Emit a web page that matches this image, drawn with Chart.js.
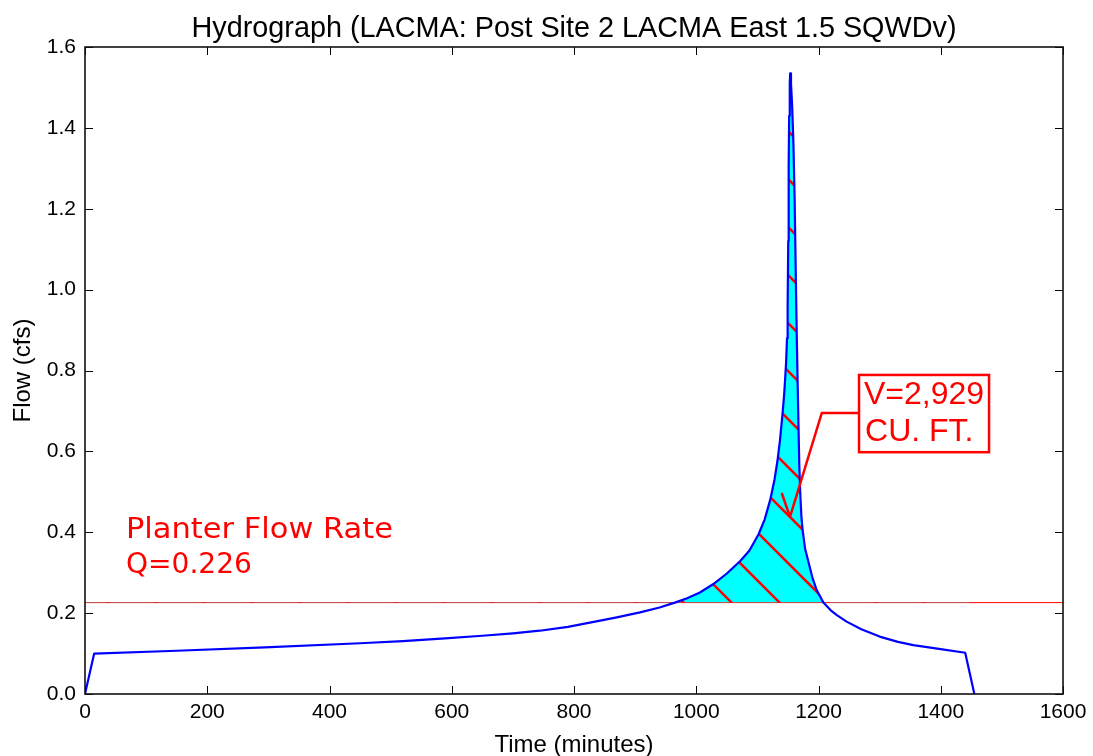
<!DOCTYPE html>
<html>
<head>
<meta charset="utf-8">
<script src="https://cdn.jsdelivr.net/npm/chart.js@4"></script>
<style>
  html, body { margin: 0; padding: 0; background: #fff; }
  #wrap { width: 1093px; height: 756px; }
</style>
</head>
<body>
<div id="wrap"><canvas id="chart" width="1093" height="756"></canvas></div>
<script>
// Storm runoff hydrograph, time in minutes, flow in cfs
const timeMin = [0, 15, 150, 294, 450, 520, 589, 650, 700, 744, 790, 826, 870, 908, 940, 965, 985, 1006, 1028, 1050, 1072, 1087, 1102, 1112, 1121, 1128, 1133, 1137, 1141, 1143.5, 1145, 1147, 1148.5, 1149.5, 1150.5, 1151.2, 1152, 1153, 1153.7, 1155, 1157, 1159, 1161, 1163, 1164.5, 1166, 1167.3, 1168.5, 1170, 1172, 1174, 1178, 1184, 1190, 1197, 1208, 1220, 1230, 1246, 1270, 1300, 1330, 1355, 1400, 1440, 1455];
const flowCfs = [0, 0.100, 0.107, 0.1155, 0.1255, 0.131, 0.1375, 0.144, 0.150, 0.1565, 0.166, 0.1765, 0.1895, 0.202, 0.214, 0.226, 0.237, 0.251, 0.272, 0.298, 0.329, 0.355, 0.395, 0.432, 0.48, 0.53, 0.578, 0.628, 0.69, 0.735, 0.768, 0.82, 0.88, 0.96, 1.12, 1.30, 1.43, 1.51, 1.535, 1.51, 1.45, 1.36, 1.22, 1.02, 0.88, 0.76, 0.66, 0.57, 0.50, 0.44, 0.405, 0.36, 0.324, 0.288, 0.257, 0.226, 0.207, 0.195, 0.179, 0.160, 0.142, 0.129, 0.121, 0.111, 0.102, 0];

const planterQ = 0.226;           // planter flow rate, cfs
const planterSpan = [0, 1600];    // drawn across the whole time axis
const xTicks = [0, 200, 400, 600, 800, 1000, 1200, 1400, 1600];
const yTicks = [0.0, 0.2, 0.4, 0.6, 0.8, 1.0, 1.2, 1.4, 1.6];
const volumeLabel = ['V=2,929', 'CU. FT.'];
const planterLabel = ['Planter Flow Rate', 'Q=0.226'];

const SANS = '"Liberation Sans", Arial, sans-serif';

// cyan fill with red "\\" hatching for the volume above the planter rate
function makeHatch() {
  const s = 48;
  const c = document.createElement('canvas');
  c.width = s; c.height = s;
  const g = c.getContext('2d');
  g.fillStyle = '#00ffff';
  g.fillRect(0, 0, s, s);
  g.strokeStyle = '#ff0000';
  g.lineWidth = 2.6;
  for (let k = -2; k <= 2; k++) {
    const off = 15 + k * s;
    g.beginPath();
    g.moveTo(-10, -10 + off);
    g.lineTo(s + 10, s + 10 + off);
    g.stroke();
  }
  return g.createPattern(c, 'repeat');
}

const hydro = timeMin.map((t, i) => ({ x: t, y: flowCfs[i] }));
const planter = planterSpan.map(t => ({ x: t, y: planterQ }));

// frame on all four sides with inward tick marks
const framePlugin = {
  id: 'frame',
  afterDraw(chart) {
    const { ctx, chartArea: a, scales } = chart;
    ctx.save();
    ctx.strokeStyle = '#000';
    ctx.lineWidth = 1;
    const L = 8;
    ctx.beginPath();
    xTicks.forEach(v => {
      const px = Math.round(scales.x.getPixelForValue(v)) + 0.5;
      ctx.moveTo(px, a.bottom); ctx.lineTo(px, a.bottom - L);
      ctx.moveTo(px, a.top); ctx.lineTo(px, a.top + L);
    });
    yTicks.forEach(v => {
      const py = Math.round(scales.y.getPixelForValue(v)) + 0.5;
      ctx.moveTo(a.left, py); ctx.lineTo(a.left + L, py);
      ctx.moveTo(a.right, py); ctx.lineTo(a.right - L, py);
    });
    ctx.stroke();
    ctx.lineWidth = 1.6;
    ctx.strokeStyle = '#111';
    ctx.strokeRect(a.left, a.top, a.right - a.left, a.bottom - a.top);
    ctx.restore();
  }
};

// write a line of text stretched to a given width
function fillTextWidth(ctx, text, x, y, w) {
  const m = ctx.measureText(text).width;
  ctx.save();
  ctx.translate(x, y);
  ctx.scale(w / m, 1);
  ctx.fillText(text, 0, 0);
  ctx.restore();
}

// text annotations: planter rate note and the volume call-out with leader arrow
const notePlugin = {
  id: 'notes',
  afterDatasetsDraw(chart) {
    const { ctx, scales: { x, y } } = chart;
    ctx.save();
    ctx.fillStyle = '#ff0000';
    ctx.textAlign = 'left';
    ctx.textBaseline = 'alphabetic';

    ctx.font = '28.5px "DejaVu Sans", sans-serif';
    const px0 = x.getPixelForValue(67), py0 = y.getPixelForValue(0.386);
    fillTextWidth(ctx, planterLabel[0], px0, py0, 267);
    fillTextWidth(ctx, planterLabel[1], px0, py0 + 35, 126);

    // call-out box
    const bl = x.getPixelForValue(1266.3), bt = y.getPixelForValue(0.789);
    const br = x.getPixelForValue(1479), bb = y.getPixelForValue(0.598);
    ctx.strokeStyle = '#ff0000';
    ctx.lineWidth = 2.5;
    ctx.strokeRect(bl, bt, br - bl, bb - bt);
    ctx.font = '32px ' + SANS;
    ctx.fillText(volumeLabel[0], bl + 5, bt + 29);
    ctx.fillText(volumeLabel[1], bl + 6, bt + 66);

    // leader line with open arrow head
    const elbowX = x.getPixelForValue(1205.4), elbowY = y.getPixelForValue(0.695);
    const tipX = x.getPixelForValue(1153.4), tipY = y.getPixelForValue(0.438);
    const armX = x.getPixelForValue(1139.8), armY = y.getPixelForValue(0.497);
    ctx.lineWidth = 2.5;
    ctx.beginPath();
    ctx.moveTo(bl, elbowY);
    ctx.lineTo(elbowX, elbowY);
    ctx.lineTo(tipX, tipY);
    ctx.moveTo(armX, armY);
    ctx.lineTo(tipX, tipY);
    ctx.stroke();

    // title
    ctx.fillStyle = '#000';
    ctx.textAlign = 'center';
    ctx.font = '28.8px ' + SANS;
    ctx.fillText('Hydrograph (LACMA: Post Site 2 LACMA East 1.5 SQWDv)', (chart.chartArea.left + chart.chartArea.right) / 2, 37);
    ctx.restore();
  }
};

new Chart(document.getElementById('chart'), {
  type: 'line',
  data: {
    datasets: [
      {
        label: 'Hydrograph',
        data: hydro,
        borderColor: '#0000ff',
        borderWidth: 2.2,
        borderJoinStyle: 'round',
        pointRadius: 0,
        tension: 0,
        fill: { target: { value: planterQ }, above: makeHatch(), below: 'rgba(0,0,0,0)' },
        order: 0
      },
      {
        label: 'Planter flow rate',
        data: planter,
        borderColor: '#ff0000',
        borderWidth: 1,
        pointRadius: 0,
        fill: false,
        order: 1
      }
    ]
  },
  options: {
    responsive: false,
    animation: false,
    devicePixelRatio: 1,
    layout: { padding: { top: 47, right: 30, left: 0, bottom: 0 } },
    plugins: { legend: { display: false }, tooltip: { enabled: false }, title: { display: false } },
    scales: {
      x: {
        type: 'linear', min: 0, max: 1600,
        afterBuildTicks: s => { s.ticks = xTicks.map(v => ({ value: v })); },
        afterFit: s => { s.height = 62; },
        grid: { display: false, drawTicks: false },
        border: { display: false },
        ticks: { color: '#000', font: { family: SANS, size: 21 }, padding: 6, maxRotation: 0, callback: v => String(v) },
        title: { display: true, text: 'Time (minutes)', color: '#000', font: { family: SANS, size: 24 }, padding: { top: 0, bottom: -4 } }
      },
      y: {
        type: 'linear', min: 0, max: 1.6,
        afterBuildTicks: s => { s.ticks = yTicks.map(v => ({ value: v })); },
        afterFit: s => { s.width = 85; },
        grid: { display: false, drawTicks: false },
        border: { display: false },
        ticks: { color: '#000', font: { family: SANS, size: 21 }, padding: 9, callback: v => Number(v).toFixed(1) },
        title: { display: true, text: 'Flow (cfs)', color: '#000', font: { family: SANS, size: 24 }, padding: { top: 9, bottom: 0 } }
      }
    }
  },
  plugins: [framePlugin, notePlugin]
});
</script>
</body>
</html>
